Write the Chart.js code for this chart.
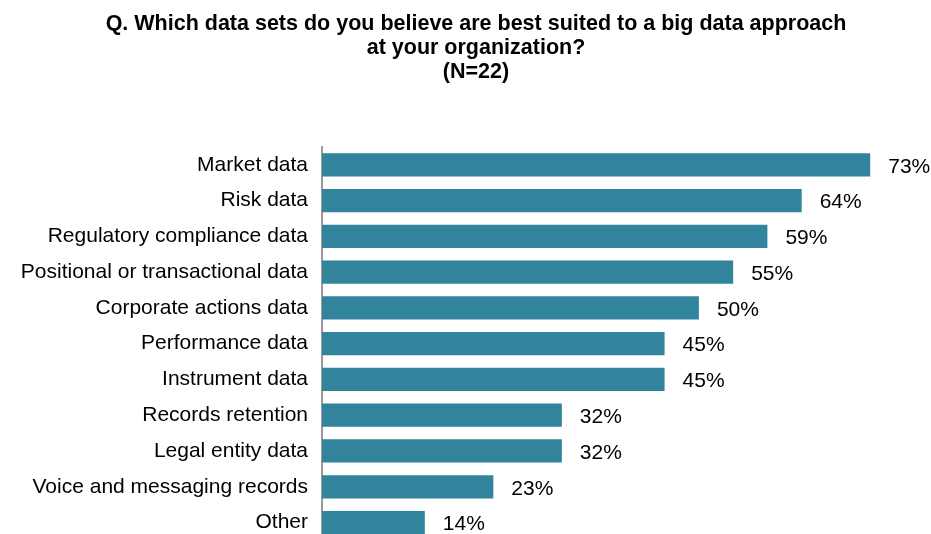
<!DOCTYPE html>
<html>
<head>
<meta charset="utf-8">
<script src="https://cdn.jsdelivr.net/npm/chart.js@4"></script>
<style>
  html, body { margin: 0; padding: 0; background: #fff; overflow: hidden; }
  #wrap { width: 931px; height: 567px; position: relative; }
</style>
</head>
<body>
<div id="wrap"><canvas id="resultat"></canvas></div>
<script>
// chart data (share of 22 respondents)
let titleLines = [
    'Q. Which data sets do you believe are best suited to a big data approach',
    'at your organization?',
    '(N=22)'
];
let categories = [
    'Market data',
    'Risk data',
    'Regulatory compliance data',
    'Positional or transactional data',
    'Corporate actions data',
    'Performance data',
    'Instrument data',
    'Records retention',
    'Legal entity data',
    'Voice and messaging records',
    'Other'
];
let shares = [72.73, 63.64, 59.09, 54.55, 50.0, 45.45, 45.45, 31.82, 31.82, 22.73, 13.64];

const FONT = "'Liberation Sans', Arial, sans-serif";

// draws "73%" etc. to the right of each bar
const barLabels = {
    id: 'barLabels',
    afterDatasetsDraw(chart) {
        const ctx = chart.ctx;
        const meta = chart.getDatasetMeta(0);
        ctx.save();
        ctx.font = '21px ' + FONT;
        ctx.fillStyle = '#000';
        ctx.textAlign = 'left';
        ctx.textBaseline = 'middle';
        meta.data.forEach((bar, i) => {
            ctx.fillText(Math.round(shares[i]) + '%', bar.x + 18, bar.y + 2);
        });
        ctx.restore();
    }
};

// title is a bit right of the page centre in the original, so draw it by hand
const slideTitle = {
    id: 'slideTitle',
    afterDraw(chart) {
        const ctx = chart.ctx;
        ctx.save();
        ctx.font = 'bold 21.5px ' + FONT;
        ctx.fillStyle = '#000';
        ctx.textAlign = 'center';
        ctx.textBaseline = 'middle';
        titleLines.forEach((line, i) => {
            ctx.fillText(line, 476, 24 + i * 24);
        });
        ctx.restore();
    }
};

BarGraph('resultat', categories, shares);

function BarGraph(dst, labels, data) {
    const ctx = document.getElementById(dst).getContext('2d');

    const chart = new Chart(ctx, {
        type: 'bar',
        data: {
            labels: labels,
            datasets: [{
                data: data,
                backgroundColor: '#31849B',
                borderWidth: 0,
                barPercentage: 0.65,
                categoryPercentage: 1
            }]
        },
        options: {
            indexAxis: 'y',
            responsive: true,
            maintainAspectRatio: false,
            animation: false,
            layout: { padding: { left: 0, right: 6, top: 147, bottom: 0 } },
            plugins: {
                legend: { display: false },
                tooltip: { enabled: false },
                title: { display: false }
            },
            scales: {
                x: {
                    display: false,
                    min: 0,
                    max: 80
                },
                y: {
                    grid: { display: false, drawTicks: false },
                    border: { display: true, color: '#9a9a9a', width: 2 },
                    ticks: {
                        color: '#000',
                        padding: 14,
                        font: { family: FONT, size: 21 }
                    },
                    afterFit(scale) { scale.width = 322; }
                }
            }
        },
        plugins: [barLabels, slideTitle]
    });
}
</script>
</body>
</html>
